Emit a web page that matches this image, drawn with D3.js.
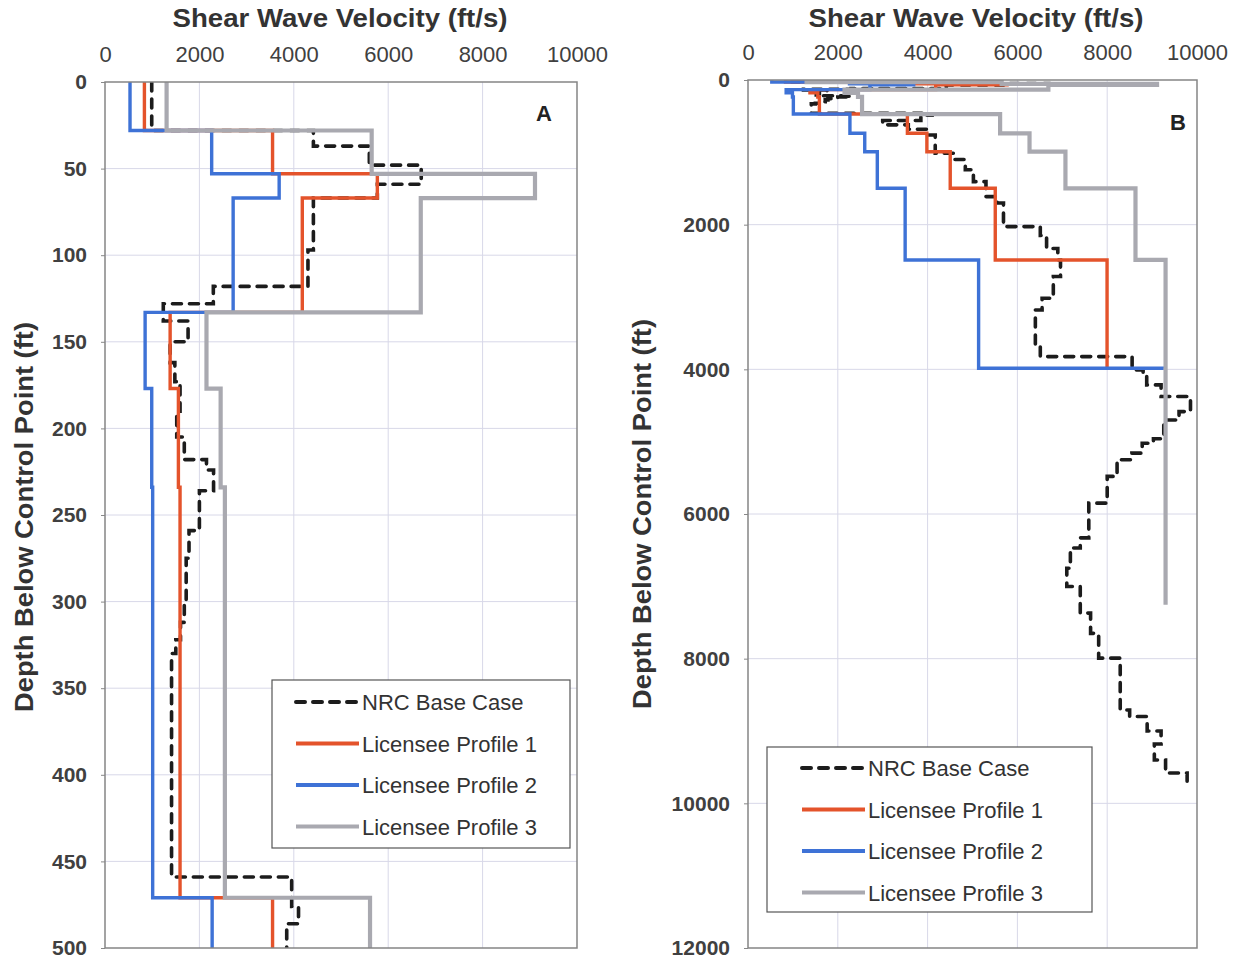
<!DOCTYPE html>
<meta charset="utf-8">
<style>
body { margin: 0; background: #fff; }
svg { font-family: "Liberation Sans", Arial, sans-serif; }
</style>
<body>
<script src="https://d3js.org/d3.v7.min.js"></script>
<script>

// series: layer top depth (ft) and shear wave velocity (ft/s), plus bottom depth
var nrcDepth = [0, 28, 37, 48, 59, 67, 97, 118, 128, 138, 150, 162, 173, 190, 205, 218, 224, 236, 259, 275, 300, 312, 322, 330,
  459, 476, 486, 560, 620, 680, 760, 1013, 1100, 1240, 1405, 1612, 1700, 2027, 2150, 2330, 2488, 2717, 3017, 3179, 3685,
  3824, 4008, 4054, 4215, 4376, 4584, 4700, 4960, 5021, 5159, 5250, 5480, 5850, 6330, 6470, 6750, 7003, 7370, 7650,
  7993, 8710, 8800, 9000, 9180, 9400, 9580];
var nrcVel = [990, 4415, 5600, 6700, 5770, 4415, 4300, 2295, 1235, 1760, 1380, 1480, 1590, 1520, 1680, 2150, 2300, 2000, 1780, 1720, 1680, 1600, 1500, 1410,
  3955, 4100, 3850, 3000, 3570, 4000, 4170, 4600, 4840, 5020, 5300, 5550, 5690, 6510, 6650, 6900, 6960, 6800, 6550, 6400, 6510,
  8555, 8800, 8880, 9200, 9855, 9600, 9260, 9030, 8780, 8550, 8220, 8000, 7590, 7400, 7180, 7100, 7400, 7630, 7810,
  8290, 8500, 8890, 9200, 9050, 9300, 9780];
var nrcBottom = 9750;

var p1Depth = [0, 28, 53, 67, 133, 177, 234, 471, 737, 991, 1497, 2488];
var p1Vel   = [835, 3550, 5770, 4180, 1380, 1555, 1590, 3550, 3984, 4504, 5507, 7997];
var p1Bottom = 3985;

var p2Depth = [0, 28, 53, 67, 133, 177, 234, 471, 737, 991, 1497, 2488, 3985];
var p2Vel   = [530, 2260, 3690, 2715, 850, 990, 1010, 2270, 2600, 2880, 3500, 5136, 9260];
var p2Bottom = 3990;

var p3Depth = [0, 28, 53, 67, 133, 177, 234, 471, 737, 991, 1497, 2488];
var p3Vel   = [1305, 5650, 9110, 6690, 2150, 2450, 2540, 5615, 6270, 7070, 8630, 9300];
var p3Bottom = 7256;

var seriesNames = ["NRC Base Case", "Licensee Profile 1", "Licensee Profile 2", "Licensee Profile 3"];
var xTicks = [0, 2000, 4000, 6000, 8000, 10000];
var yTicksA = [0, 50, 100, 150, 200, 250, 300, 350, 400, 450, 500];
var yTicksB = [0, 2000, 4000, 6000, 8000, 10000, 12000];

function toPoints(depth, vel, bottom) {
  var pts = depth.map(function(d, i) { return {d: d, v: vel[i]}; });
  pts.push({d: bottom, v: vel[vel.length - 1]});
  return pts;
}

var series = [
  {name: seriesNames[0], pts: toPoints(nrcDepth, nrcVel, nrcBottom), color: "#1c1c1c", width: 3.6, dash: "9,8"},
  {name: seriesNames[1], pts: toPoints(p1Depth, p1Vel, p1Bottom), color: "#e4532b", width: 3.4, dash: null},
  {name: seriesNames[2], pts: toPoints(p2Depth, p2Vel, p2Bottom), color: "#3e72d6", width: 3.4, dash: null},
  {name: seriesNames[3], pts: toPoints(p3Depth, p3Vel, p3Bottom), color: "#a9a9b0", width: 4.2, dash: null}
];

var fmt = d3.format("d");

var svg = d3.select("body").append("svg")
    .attr("width", 1241)
    .attr("height", 963);

function drawPanel(p) {
  var x = d3.scaleLinear().domain([0, 10000]).range([p.left, p.right]);
  var y = d3.scaleLinear().domain([0, p.maxDepth]).range([p.top, p.bottom]);
  var g = svg.append("g");

  // gridlines
  g.selectAll(".vg").data(xTicks.slice(1, -1)).enter().append("line")
      .attr("x1", function(d) { return x(d); }).attr("x2", function(d) { return x(d); })
      .attr("y1", p.top).attr("y2", p.bottom)
      .attr("stroke", "#d8d8e8").attr("stroke-width", 1);
  g.selectAll(".hg").data(p.yTicks.slice(1, -1)).enter().append("line")
      .attr("y1", function(d) { return y(d); }).attr("y2", function(d) { return y(d); })
      .attr("x1", p.left).attr("x2", p.right)
      .attr("stroke", "#d8d8e8").attr("stroke-width", 1);

  // x axis at top
  var xAxis = g.append("g")
      .attr("transform", "translate(0," + p.top + ")")
      .call(d3.axisTop(x).tickValues(xTicks).tickFormat(fmt).tickSize(0).tickPadding(20));
  xAxis.select(".domain").remove();
  xAxis.selectAll("text")
      .attr("font-size", 22).attr("fill", "#404040")
      .attr("font-family", "'Liberation Sans', Arial, sans-serif");

  // y axis
  var yAxis = g.append("g")
      .attr("transform", "translate(" + p.left + ",0)")
      .call(d3.axisLeft(y).tickValues(p.yTicks).tickFormat(fmt).tickSize(4).tickPadding(14));
  yAxis.select(".domain").remove();
  yAxis.selectAll("line").attr("stroke", "#888");
  yAxis.selectAll("text")
      .attr("font-size", 21).attr("font-weight", "bold").attr("fill", "#404040")
      .attr("font-family", "'Liberation Sans', Arial, sans-serif");

  // clip
  svg.append("clipPath").attr("id", "clip" + p.id)
    .append("rect")
      .attr("x", p.left).attr("y", p.top)
      .attr("width", p.right - p.left).attr("height", p.bottom - p.top);

  var line = d3.line()
      .x(function(d) { return x(d.v); })
      .y(function(d) { return y(d.d); })
      .curve(d3.curveStepBefore);

  var lines = g.append("g").attr("clip-path", "url(#clip" + p.id + ")");
  lines.selectAll("path").data(series).enter().append("path")
      .attr("d", function(s) { return line(s.pts); })
      .attr("fill", "none")
      .attr("stroke", function(s) { return s.color; })
      .attr("stroke-width", function(s) { return s.width; })
      .attr("stroke-dasharray", function(s) { return s.dash; })
      .attr("stroke-linecap", function(s) { return s.dash ? "round" : "butt"; })
      .attr("stroke-linejoin", "miter");

  // plot border
  g.append("rect")
      .attr("x", p.left).attr("y", p.top)
      .attr("width", p.right - p.left).attr("height", p.bottom - p.top)
      .attr("fill", "none").attr("stroke", "#858585").attr("stroke-width", 1.5);

  // panel letter
  g.append("text")
      .attr("x", p.letterX).attr("y", p.letterY)
      .attr("text-anchor", "middle")
      .attr("font-size", 22).attr("font-weight", "bold").attr("fill", "#222")
      .text(p.letter);

  // titles
  g.append("text")
      .attr("x", p.titleX).attr("y", 27)
      .attr("text-anchor", "middle")
      .attr("font-size", 25).attr("font-weight", "bold").attr("fill", "#333")
      .attr("textLength", 335).attr("lengthAdjust", "spacingAndGlyphs")
      .text("Shear Wave Velocity (ft/s)");
  g.append("text")
      .attr("transform", "translate(" + p.yTitleX + "," + p.yTitleY + ") rotate(-90)")
      .attr("text-anchor", "middle")
      .attr("font-size", 25).attr("font-weight", "bold").attr("fill", "#333")
      .attr("textLength", 390).attr("lengthAdjust", "spacingAndGlyphs")
      .text("Depth Below Control Point (ft)");

  // legend
  var lg = g.append("g");
  lg.append("rect")
      .attr("x", p.legX).attr("y", p.legY)
      .attr("width", p.legW).attr("height", p.legH)
      .attr("fill", "#fff").attr("stroke", "#555").attr("stroke-width", 1.2);
  var items = lg.selectAll(".item").data(series).enter().append("g")
      .attr("transform", function(s, i) {
        return "translate(" + p.legX + "," + (p.legY + p.legFirst + i * p.legStep) + ")";
      });
  items.append("line")
      .attr("x1", p.legLine0).attr("x2", p.legLine1)
      .attr("y1", 0).attr("y2", 0)
      .attr("stroke", function(s) { return s.color; })
      .attr("stroke-width", 4)
      .attr("stroke-dasharray", function(s) { return s.dash; })
      .attr("stroke-linecap", function(s) { return s.dash ? "round" : "butt"; });
  items.append("text")
      .attr("x", p.legLine1 + 3).attr("y", 8)
      .attr("font-size", 22).attr("fill", "#333")
      .text(function(s) { return s.name; });
}

drawPanel({
  id: "A", left: 105, right: 577, top: 82, bottom: 948, maxDepth: 500, yTicks: yTicksA,
  letter: "A", letterX: 544, letterY: 121, titleX: 340, yTitleX: 33, yTitleY: 517,
  legX: 272, legY: 680, legW: 298, legH: 168, legFirst: 22, legStep: 41.5, legLine0: 24, legLine1: 87
});

drawPanel({
  id: "B", left: 748, right: 1197, top: 80, bottom: 948, maxDepth: 12000, yTicks: yTicksB,
  letter: "B", letterX: 1178, letterY: 130, titleX: 976, yTitleX: 651, yTitleY: 514,
  legX: 767, legY: 747, legW: 325, legH: 165, legFirst: 21, legStep: 41.5, legLine0: 35, legLine1: 98
});

</script>
</body>
